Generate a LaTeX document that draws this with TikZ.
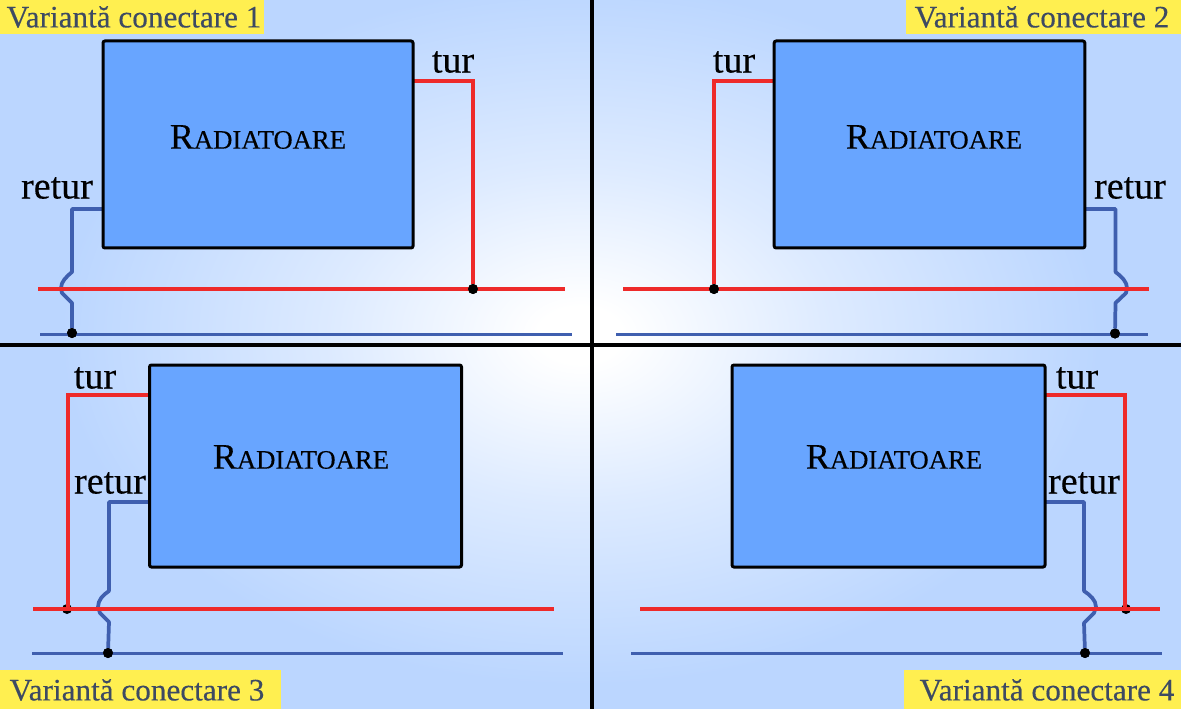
\documentclass[tikz,border=0pt]{standalone}
\usepackage{fontspec}
\setmainfont{Liberation Serif}
\newfontfamily\heavy[FakeBold=0.3]{Liberation Serif}
\definecolor{bgb}{HTML}{BBD6FF}
\definecolor{radf}{HTML}{68A5FF}
\definecolor{redp}{HTML}{EE2A2A}
\definecolor{bluep}{HTML}{3F5FAF}
\definecolor{yel}{HTML}{FFEF50}
\definecolor{capt}{HTML}{3D4A63}
\pgfdeclareradialshading{bgshade}{\pgfpointorigin}{color(0bp)=(white); color(2bp)=(white); color(12bp)=(bgb!50!white); color(25bp)=(bgb); color(50bp)=(bgb)}
\newcommand{\radtxt}{\heavy{\fontsize{27}{27}\selectfont R}{\fontsize{20}{20}\selectfont ADIATOARE}}
\tikzset{
  radbox/.style={draw=black,line width=2.25pt,fill=radf,rounded corners=1.5pt,inner sep=0pt,outer sep=0pt},
  radlabel/.style={inner sep=0pt},
  piperlabel/.style={inner sep=0pt,text=black,font=\heavy\fontsize{28.5}{28}\selectfont},
  caption/.style={inner sep=0pt,text=capt,font=\heavy\fontsize{23.4}{24}\selectfont},
  redline/.style={draw=redp,line width=2.6pt},
  redfeed/.style={draw=redp,line width=2.5pt,line join=miter},
  blueline/.style={draw=bluep,line width=1.9pt},
  bluefeed/.style={draw=bluep,line width=2.8pt,line join=round},
  joint/.style={circle,fill=black,inner sep=0pt,outer sep=0pt,minimum size=7.5pt},
  divider/.style={draw=black,line width=2.6pt}
}
\begin{document}
\begin{tikzpicture}[x=0.75pt,y=-0.75pt]
\useasboundingbox (0,0) rectangle (1181,709);
\fill[bgb] (0,0) rectangle (1181,709);
\begin{scope}
\clip (0,0) rectangle (1181,709);
\shade[shading=bgshade] (580,335) ellipse (520 and 350);
\end{scope}

% captions
\fill[yel] (0,0) rectangle (264,34);
\fill[yel] (906,0) rectangle (1181,34);
\fill[yel] (0,670) rectangle (281,709);
\fill[yel] (904,670) rectangle (1181,709);
\node[caption] (c1) at (134,17) {Variantă conectare 1};
\node[caption] (c2) at (1042,17) {Variantă conectare 2};
\node[caption] (c3) at (137,690) {Variantă conectare 3};
\node[caption] (c4) at (1047,690) {Variantă conectare 4};

% dividers
\coordinate (vt) at (592,0); \coordinate (vb) at (592,709);
\coordinate (hl) at (0,345); \coordinate (hr) at (1181,345);
\draw[divider] (vt) -- (vb);
\draw[divider] (hl) -- (hr);

% joints under the lines (variants 3, 4)
\node[joint] (j3) at (67,609) {};
\node[joint] (j4) at (1126,609) {};

% ---------- variant 1
\coordinate (ra1) at (38,289); \coordinate (rb1) at (565,289);
\coordinate (ba1) at (40,334.4); \coordinate (bb1) at (572,334.4);
\coordinate (t1) at (413,81); \coordinate (s1) at (103,209);
\node[joint] (j1) at (473,289) {};
\node[joint] (k1) at (72,333) {};
\draw[blueline] (ba1) -- (bb1);
\draw[bluefeed] (s1) -- (72,209) -- (72,272) .. controls (66,277) and (61,282) .. (61,288) -- (62,293) -- (72,303) -- (k1);
\draw[redfeed] (t1) -| (j1);
\draw[redline] (ra1) -- (rb1);
\node[joint] at (j1) {};
\node[joint] at (k1) {};
\node[radbox,minimum width=232.5pt,minimum height=155.25pt] (r1) at (258,144.5) {};
\node[radlabel] (n1) at (258,137) {\radtxt};
\node[piperlabel] (tl1) at (453,62) {tur};
\node[piperlabel] (rl1) at (57,188) {retur};

% ---------- variant 2
\coordinate (ra2) at (623,289); \coordinate (rb2) at (1149,289);
\coordinate (ba2) at (616,334.4); \coordinate (bb2) at (1148,334.4);
\coordinate (t2) at (774,81); \coordinate (s2) at (1085,209);
\node[joint] (j2) at (714,289) {};
\node[joint] (k2) at (1115,333.5) {};
\draw[blueline] (ba2) -- (bb2);
\draw[bluefeed] (s2) -- (1115.5,209) -- (1115.5,272) .. controls (1122,277) and (1127,282) .. (1127,288) -- (1126,293) -- (1115.5,303) -- (k2);
\draw[redfeed] (t2) -| (j2);
\draw[redline] (ra2) -- (rb2);
\node[joint] at (j2) {};
\node[joint] at (k2) {};
\node[radbox,minimum width=233pt,minimum height=155.25pt] (r2) at (929.5,144.5) {};
\node[radlabel] (n2) at (934,137) {\radtxt};
\node[piperlabel] (tl2) at (734,62) {tur};
\node[piperlabel] (rl2) at (1130,188) {retur};

% ---------- variant 3
\coordinate (ra3) at (33,608.9); \coordinate (rb3) at (554,608.9);
\coordinate (ba3) at (32,653.5); \coordinate (bb3) at (563,653.5);
\coordinate (t3) at (149,395); \coordinate (s3) at (149,502);
\node[joint] (k3) at (108,653) {};
\draw[blueline] (ba3) -- (bb3);
\draw[bluefeed] (s3) -- (109,502) -- (109,591) .. controls (103,595) and (98,600) .. (98,607) -- (100,613) -- (109,622) -- (k3);
\draw[redfeed] (t3) -- (68,395) -- (68,608);
\draw[redline] (ra3) -- (rb3);
\node[joint] at (k3) {};
\node[radbox,minimum width=234pt,minimum height=151.5pt] (r3) at (305.5,466) {};
\node[radlabel] (n3) at (301,457) {\radtxt};
\node[piperlabel] (tl3) at (95,378) {tur};
\node[piperlabel] (rl3) at (110,483) {retur};

% ---------- variant 4
\coordinate (ra4) at (640,608.9); \coordinate (rb4) at (1160,608.9);
\coordinate (ba4) at (631,653.5); \coordinate (bb4) at (1162,653.5);
\coordinate (t4) at (1045,395); \coordinate (s4) at (1045,502);
\node[joint] (k4) at (1085,653) {};
\draw[blueline] (ba4) -- (bb4);
\draw[bluefeed] (s4) -- (1084,502) -- (1084,591) .. controls (1090,595) and (1096,600) .. (1096,607) -- (1094,613) -- (1084,623) -- (k4);
\draw[redfeed] (t4) -- (1125,395) -- (1125,608);
\draw[redline] (ra4) -- (rb4);
\node[joint] at (k4) {};
\node[radbox,minimum width=234.75pt,minimum height=151.5pt] (r4) at (888.5,466) {};
\node[radlabel] (n4) at (894,457) {\radtxt};
\node[piperlabel] (tl4) at (1077,378) {tur};
\node[piperlabel] (rl4) at (1084,483) {retur};
\end{tikzpicture}
\end{document}
